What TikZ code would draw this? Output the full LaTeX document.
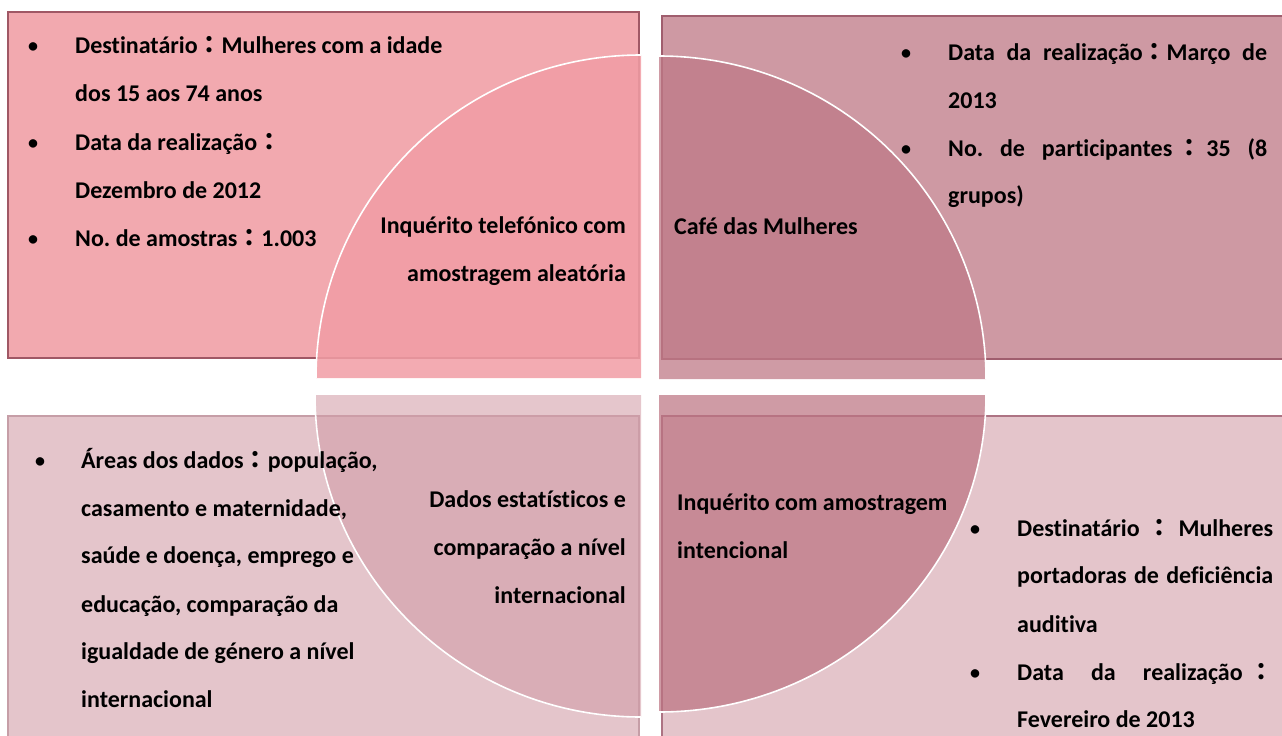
\documentclass[tikz,border=0pt]{standalone}
\usepackage{fontspec}
\setmainfont{Carlito}[Ligatures=NoCommon]
\newfontfamily\cjk{Noto Sans CJK TC}
\newcommand\fc{{\cjk ：}}
\newcommand\jline[2]{\hbox to #1{\frenchspacing\spaceskip=0.226em plus 1fil\relax #2}}
\newcommand\cs[1]{\hspace{0pt plus #1fil}}
\frenchspacing
\definecolor{rTL}{RGB}{242,169,175}
\definecolor{rTR}{RGB}{206,153,163}
\definecolor{rBL}{RGB}{228,197,203}
\definecolor{rBR}{RGB}{228,197,203}
\definecolor{bTL}{RGB}{160,88,101}
\definecolor{bTR}{RGB}{160,94,110}
\definecolor{bBL}{RGB}{198,158,167}
\definecolor{bBR}{RGB}{173,115,131}
\definecolor{qTL}{RGB}{241,157,165}
\definecolor{qTR}{RGB}{191,122,135}
\definecolor{qBL}{RGB}{210,157,167}
\definecolor{qBR}{RGB}{188,116,130}
\tikzset{
  box/.style={line width=1.8pt},
  arcline/.style={draw=white, line width=1.6pt},
  txt/.style={anchor=base west, inner sep=0pt, font=\bfseries\fontsize{24}{28}\selectfont},
  rtxt/.style={anchor=base east, inner sep=0pt, font=\bfseries\fontsize{24}{28}\selectfont},
  bul/.style={anchor=base, inner sep=0pt, font=\bfseries\fontsize{20}{22}\selectfont},
}
\begin{document}
\begin{tikzpicture}[x=1pt,y=-1pt]
\useasboundingbox (0,0) rectangle (1282,736);
% rectangles
\path[box, fill=rTL, draw=bTL] (8,12) rectangle (639,358);
\path[box, fill=rTR, draw=bTR] (662,16) rectangle (1295,359);
\path[box, fill=rBL, draw=bBL] (8,416) rectangle (639,750);
\path[box, fill=rBR, draw=bBR] (662,416) rectangle (1295,750);
% quarters
\fill[qTL, fill opacity=0.86] (641,378) -- (316,378) arc[start angle=180, end angle=270, x radius=325, y radius=323] -- cycle;
\draw[arcline] (316,378) arc[start angle=180, end angle=270, x radius=325, y radius=323];
\fill[qTR, fill opacity=0.75] (659,379) -- (659,56) arc[start angle=270, end angle=360, x radius=327, y radius=323] -- cycle;
\draw[arcline] (659,56) arc[start angle=270, end angle=360, x radius=327, y radius=323];
\fill[qBL, fill opacity=0.58] (641,395) -- (315,395) arc[start angle=180, end angle=90, x radius=326, y radius=322] -- cycle;
\draw[arcline] (315,395) arc[start angle=180, end angle=90, x radius=326, y radius=322];
\fill[qBR, fill opacity=0.72] (659,395) -- (986,395) arc[start angle=0, end angle=90, x radius=327, y radius=317] -- cycle;
\draw[arcline] (986,395) arc[start angle=0, end angle=90, x radius=327, y radius=317];
% top-left box
\node[bul] (tlb1) at (33,52) {•};
\node[txt] (tl1) at (75,53) {Destinatário\fc Mulheres com a idade};
\node[txt] (tl2) at (75,101) {dos 15 aos 74 anos};
\node[bul] (tlb2) at (33,149) {•};
\node[txt] (tl3) at (75,150) {Data da realização\fc};
\node[txt] (tl4) at (75,198) {Dezembro de 2012};
\node[bul] (tlb3) at (33,245) {•};
\node[txt] (tl5) at (75,246) {No. de amostras\fc 1.003};
% top-left quarter
\node[rtxt] (q1a) at (626,233) {Inquérito telefónico com};
\node[rtxt] (q1b) at (626,281) {amostragem aleatória};
% top-right box
\node[bul] (trb1) at (906,59) {•};
\node[txt] (tr1) at (948,60) {\jline{319pt}{Data da realização\fc Março de}};
\node[txt] (tr2) at (948,108) {2013};
\node[bul] (trb2) at (906,155) {•};
\node[txt] (tr3) at (948,156) {\jline{319pt}{No. de participantes\cs{0.45}\fc\cs{0.45}35 (8}};
\node[txt] (tr4) at (948,203) {grupos)};
% top-right quarter
\node[txt] (q2a) at (674,234) {Café das Mulheres};
% bottom-left box
\node[bul] (blb1) at (40,467) {•};
\node[txt] (bl1) at (81,468) {Áreas dos dados\fc população,};
\node[txt] (bl2) at (81,516) {casamento e maternidade,};
\node[txt] (bl3) at (81,563) {saúde e doença, emprego e};
\node[txt] (bl4) at (81,612) {educação, comparação da};
\node[txt] (bl5) at (81,659) {igualdade de género a nível};
\node[txt] (bl6) at (81,707) {internacional};
% bottom-left quarter
\node[rtxt] (q3a) at (626,507) {Dados estatísticos e};
\node[rtxt] (q3b) at (626,555) {comparação a nível};
\node[rtxt] (q3c) at (626,603) {internacional};
% bottom-right quarter
\node[txt] (q4a) at (677,510) {Inquérito com amostragem};
\node[txt] (q4b) at (677,558) {intencional};
% bottom-right box
\node[bul] (brb1) at (975,535) {•};
\node[txt] (br1) at (1017,536) {\jline{256pt}{Destinatário\cs{1}\fc\cs{1}Mulheres}};
\node[txt] (br2) at (1017,583) {\jline{256pt}{portadoras de deficiência}};
\node[txt] (br3) at (1017,632) {auditiva};
\node[bul] (brb2) at (975,679) {•};
\node[txt] (br4) at (1017,680) {\jline{256pt}{Data da realização\cs{0.3}\fc}};
\node[txt] (br5) at (1017,727) {Fevereiro de 2013};
\end{tikzpicture}
\end{document}
